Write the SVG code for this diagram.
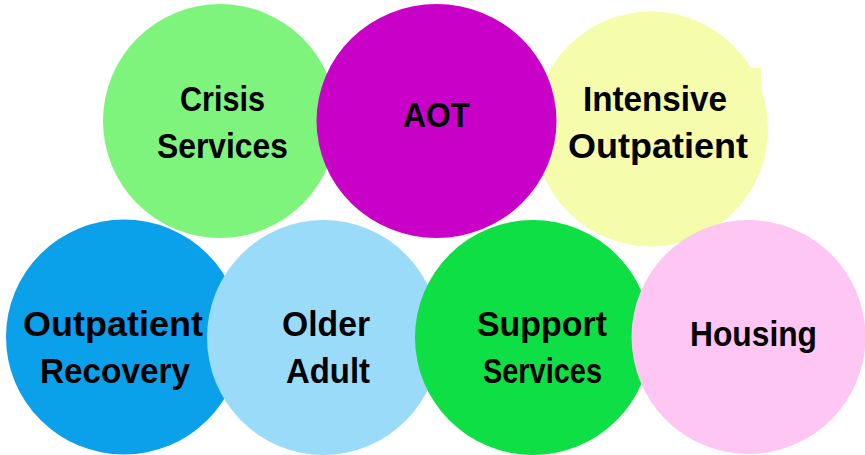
<svg xmlns="http://www.w3.org/2000/svg" width="865" height="455" viewBox="0 0 865 455">
<style>
text{font-family:"Liberation Sans",Arial,sans-serif;font-weight:bold;font-size:35px;fill:#000;text-anchor:middle}
</style>
<rect width="865" height="455" fill="#fff"/>
<g id="crisis">
<ellipse cx="220" cy="121" rx="117" ry="117" fill="#7ff47c"/>
<text x="222.5" y="111" textLength="85" lengthAdjust="spacingAndGlyphs">Crisis</text>
<text x="222.5" y="158" textLength="131" lengthAdjust="spacingAndGlyphs">Services</text>
</g>
<g id="intensive">
<ellipse cx="651" cy="129" rx="117" ry="117.5" fill="#f5fcab"/>
<rect x="700" y="68" width="61" height="40" fill="#f5fcab"/>
<text x="655" y="111" textLength="144" lengthAdjust="spacingAndGlyphs">Intensive</text>
<text x="658" y="158" textLength="180" lengthAdjust="spacingAndGlyphs">Outpatient</text>
</g>
<g id="aot">
<ellipse cx="436.5" cy="121" rx="120" ry="117" fill="#c800c8"/>
<text x="436.5" y="127" textLength="67" lengthAdjust="spacingAndGlyphs">AOT</text>
</g>
<g id="outpatient-recovery">
<ellipse cx="124" cy="337" rx="118" ry="117.5" fill="#0ba0ea"/>
<text x="113" y="336" textLength="180" lengthAdjust="spacingAndGlyphs">Outpatient</text>
<text x="115" y="383" textLength="150" lengthAdjust="spacingAndGlyphs">Recovery</text>
</g>
<g id="older-adult">
<ellipse cx="323.5" cy="337.5" rx="116.5" ry="117.5" fill="#99dbf8"/>
<text x="326" y="336" textLength="88" lengthAdjust="spacingAndGlyphs">Older</text>
<text x="328" y="383" textLength="84" lengthAdjust="spacingAndGlyphs">Adult</text>
</g>
<g id="support-services">
<ellipse cx="533" cy="337.5" rx="118" ry="117.5" fill="#0edf45"/>
<text x="542" y="336" textLength="130" lengthAdjust="spacingAndGlyphs">Support</text>
<text x="542.5" y="383" textLength="119" lengthAdjust="spacingAndGlyphs">Services</text>
</g>
<g id="housing">
<ellipse cx="748.5" cy="337" rx="117" ry="117" fill="#fec6f2"/>
<text x="753.5" y="346" textLength="127" lengthAdjust="spacingAndGlyphs">Housing</text>
</g>
<g id="connectors"/>
</svg>
